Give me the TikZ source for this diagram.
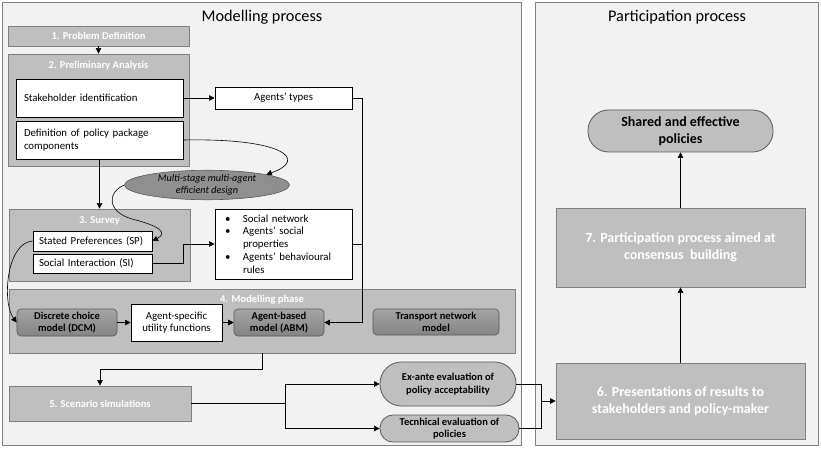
\documentclass[tikz,border=0pt]{standalone}
\usepackage{fontspec}
\setmainfont{Carlito}
\usetikzlibrary{arrows.meta,shapes.geometric}
\definecolor{panel}{HTML}{F2F2F2}
\definecolor{panelline}{HTML}{808080}
\definecolor{sect}{HTML}{BFBFBF}
\definecolor{sectline}{HTML}{7F7F7F}
\definecolor{modtop}{HTML}{A4A4A4}
\definecolor{modbot}{HTML}{848484}
\definecolor{darkline}{HTML}{595959}
\definecolor{ellfill}{HTML}{8F8F8F}
\begin{document}
\begin{tikzpicture}[x=1pt,y=-1pt,
 panelbox/.style={draw=panelline, fill=panel, line width=0.8pt, rectangle, inner sep=0pt},
 paneltitle/.style={inner sep=0pt, font=\fontsize{16.3}{19}\selectfont},
 sectbox/.style={draw=sectline, fill=sect, line width=0.8pt, inner sep=0pt, text=white, font=\bfseries\fontsize{10.5}{12.7}\selectfont, align=center},
 bigsect/.style={sectbox, font=\bfseries\fontsize{14}{17}\selectfont},
 sectitle/.style={text=white, font=\bfseries\fontsize{10.5}{12}\selectfont, inner sep=0pt},
 whitebox/.style={draw=black, fill=white, line width=0.9pt, inner sep=0pt, font=\fontsize{10.8}{12.5}\selectfont},
 modelbox/.style={draw=darkline, top color=modtop, bottom color=modbot, rounded corners=4pt, line width=0.6pt, inner sep=0pt, font=\bfseries\fontsize{10.5}{12.7}\selectfont, align=center},
 stadium/.style={draw=darkline, fill=sect, line width=0.8pt, inner sep=0pt, align=center, font=\bfseries\fontsize{10.5}{12.7}\selectfont},
 msdell/.style={draw=darkline, fill=ellfill, ellipse, line width=0.6pt, inner sep=0pt, align=center, font=\itshape\fontsize{10.2}{12}\selectfont},
 conn/.style={draw=black, line width=0.6pt, -{Triangle[length=5.5pt,width=5.5pt]}},
 plainline/.style={draw=black, line width=0.6pt},
 wh/.style 2 args={minimum width=#1pt, minimum height=#2pt}
]
\useasboundingbox (0,0) rectangle (821,449);

% panels
\node[panelbox, wh={519}{443}] (modpanel) at (261.5,223.5) {};
\node[panelbox, wh={283}{443}] (partpanel) at (676.5,223.5) {};
\node[paneltitle] (modtitle) at (262,17) {Modelling process};
\node[paneltitle] (parttitle) at (677,17) {Participation process};

% 1
\node[sectbox, wh={181}{20}] (p1) at (98.5,36) {1. Problem Definition};
% 2
\node[sectbox, wh={181}{112}] (p2) at (98.5,110) {};
\node[sectitle] (p2t) at (98.5,66) {2. Preliminary Analysis};
\node[whitebox, wh={167}{38}, text width=151pt, inner xsep=8pt, align=left] (stake) at (99.5,98) {Stakeholder identification};
\node[whitebox, wh={167}{38}, text width=151pt, inner xsep=8pt, align=left] (defn) at (99.5,140) {Definition of policy package\\components};
\node[whitebox, wh={137}{22}] (types) at (283.5,98) {Agents’ types};

% ellipse
\node[msdell, wh={165}{27}] (msd) at (207,185) {Multi-stage multi-agent\\efficient design};

% 3
\node[sectbox, wh={181}{72}] (survey) at (99.5,245) {};
\node[sectitle] (surveyt) at (99.5,221) {3. Survey};
\node[whitebox, wh={119}{20}, text width=107pt, inner xsep=6pt, align=left] (sp) at (92.5,241) {Stated Preferences (SP)};
\node[whitebox, wh={119}{19}, text width=107pt, inner xsep=6pt, align=left] (si) at (92.5,263.5) {Social Interaction (SI)};

\node[whitebox, wh={137}{70}, text width=127pt, inner xsep=5pt, align=left, font=\fontsize{10.8}{12.8}\selectfont] (bullets) at (283.5,244)
 {\makebox[23pt][l]{\hspace{5pt}\textbullet}Social network\\
  \makebox[23pt][l]{\hspace{5pt}\textbullet}Agents’ social\\
  \hspace*{23pt}properties\\
  \makebox[23pt][l]{\hspace{5pt}\textbullet}Agents’ behavioural\\
  \hspace*{23pt}rules};

% 4
\node[sectbox, wh={506}{64}] (mphase) at (262,321) {};
\node[sectitle] (mphaset) at (262,300) {4. Modelling phase};
\node[modelbox, wh={100}{27}] (dcm) at (67,322.5) {Discrete choice\\model (DCM)};
\node[whitebox, wh={91}{37}, align=center] (asuf) at (176.5,322.5) {Agent-specific\\utility functions};
\node[modelbox, wh={90}{27}] (abm) at (279,322.5) {Agent-based\\model (ABM)};
\node[modelbox, wh={126}{26}] (tnm) at (436,322) {Transport network\\model};

% 5
\node[sectbox, wh={182}{35}] (scen) at (100,403.5) {5. Scenario simulations};
\node[stadium, wh={136}{44}, rounded corners=21.5pt] (exante) at (448,384) {Ex-ante evaluation of\\policy acceptability};
\node[stadium, wh={139}{27}, rounded corners=13pt] (tech) at (449.5,428.5) {Tecnhical evaluation of\\policies};

% participation
\node[bigsect, wh={249}{76}] (p6) at (680.5,401) {6. Presentations of results to\\stakeholders and policy-maker};
\node[bigsect, wh={249}{79}] (p7) at (680.5,247.5) {7. Participation process aimed at\\consensus\ \ building};
\node[stadium, wh={185}{42}, rounded corners=20.5pt, font=\bfseries\fontsize{14}{17}\selectfont] (shared) at (680.5,131) {Shared and effective\\policies};

% connectors
\draw[conn] (p1.south) -- (p2.north);
\draw[conn] (stake.east) -- (types.west);
\coordinate (vx) at (362,98);
\draw[conn] (types.east) -- (vx) |- (abm.east);
\draw[plainline] (bullets.east) -- (bullets.east -| vx);
\draw[conn] (defn.south) -- (survey.north);
\draw[conn] (defn.east) .. controls (285,138) and (308,160) .. (msd.10);
\draw[conn] (msd.west) .. controls (106,193) and (108,212) .. (132,219) .. controls (160,226) and (168,233) .. (sp.east);
\draw[conn] (sp.west) .. controls (6,243) and (2,303) .. (dcm.west);
\draw[conn] (si.east) -- ++(31,0) |- (bullets.west);
\draw[conn] (dcm.east) -- (asuf.west);
\draw[conn] (asuf.east) -- (abm.west);
\draw[conn] (mphase.south) -- ++(0,16) -| (scen.north);
\draw[plainline] (scen.east) -- ++(94,0) coordinate (sj);
\draw[conn] (sj) |- (exante.west);
\draw[conn] (sj) |- (tech.west);
\draw[plainline] (exante.east) -- ++(25,0) coordinate (ej) |- (tech.east);
\draw[conn] (ej |- p6.west) -- (p6.west);
\draw[conn] (p6.north) -- (p7.south);
\draw[conn] (p7.north) -- (shared.south);
\end{tikzpicture}
\end{document}
